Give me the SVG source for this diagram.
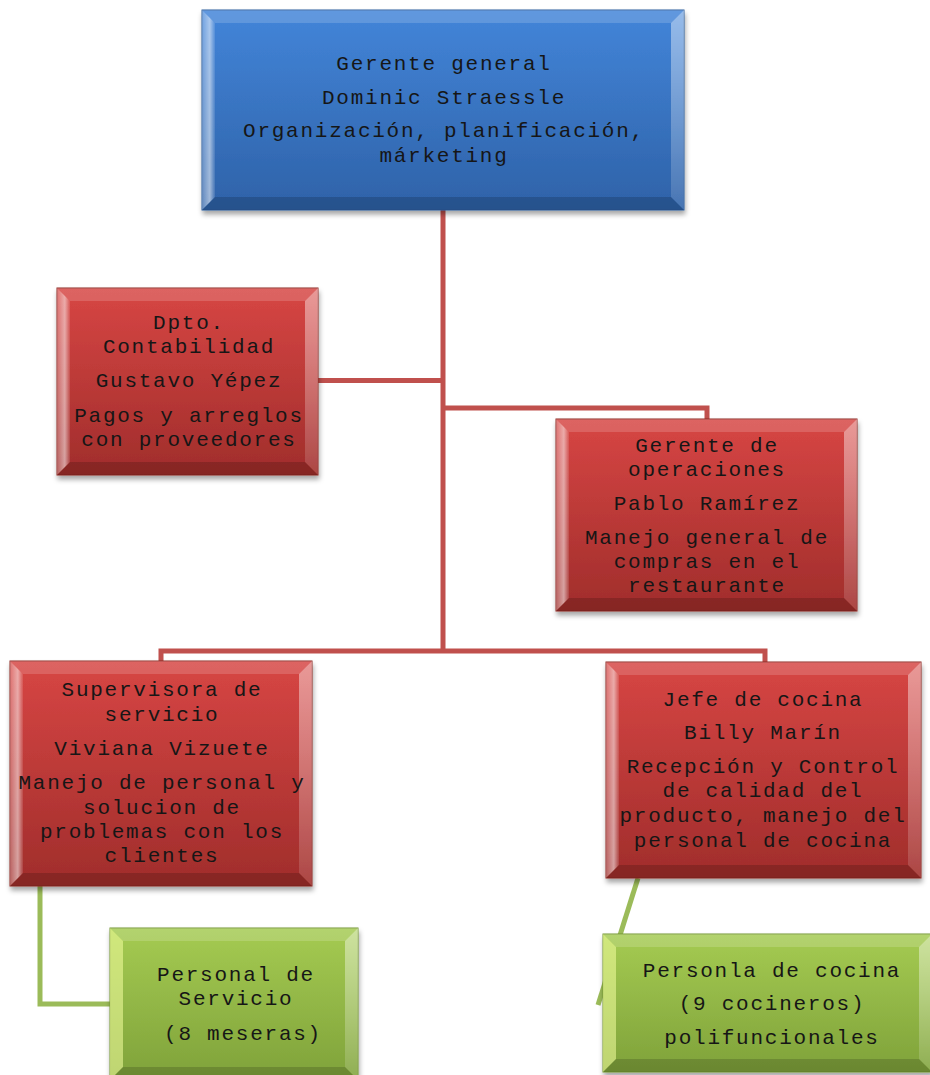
<svg xmlns="http://www.w3.org/2000/svg" width="930" height="1075" viewBox="0 0 930 1075">
<defs>
<linearGradient id="gBlue" x1="0" y1="0" x2="0" y2="1"><stop offset="0" stop-color="#4385d9"/><stop offset="1" stop-color="#2e62a8"/></linearGradient>
<linearGradient id="gRed" x1="0" y1="0" x2="0" y2="1"><stop offset="0" stop-color="#d74644"/><stop offset="1" stop-color="#a02d2b"/></linearGradient>
<linearGradient id="gGreen" x1="0" y1="0" x2="0" y2="1"><stop offset="0" stop-color="#a5cb52"/><stop offset="1" stop-color="#7fa23a"/></linearGradient>
<linearGradient id="gLeft" x1="0" y1="0" x2="1" y2="0"><stop offset="0" stop-color="#fff" stop-opacity="0.25"/><stop offset="0.6" stop-color="#fff" stop-opacity="0.55"/><stop offset="1" stop-color="#fff" stop-opacity="0.1"/></linearGradient>
<linearGradient id="gRight" x1="0" y1="0" x2="0" y2="1"><stop offset="0" stop-color="#fff" stop-opacity="0.45"/><stop offset="1" stop-color="#fff" stop-opacity="0.12"/></linearGradient>
<filter id="sh" x="-10%" y="-10%" width="120%" height="130%"><feDropShadow dx="1" dy="4" stdDeviation="2.5" flood-color="#000" flood-opacity="0.35"/></filter>
</defs>
<style>
.box{stroke-width:1}
.blue .box{fill:url(#gBlue);stroke:#2d5d9c}
.red .box{fill:url(#gRed);stroke:#8e2826}
.green .box{fill:url(#gGreen);stroke:#759633}
.bt{fill:#fff;fill-opacity:0.16}
.bl{fill:url(#gLeft)}
.br{fill:url(#gRight)}
.bb{fill:#000;fill-opacity:0.16}
.green .bl{fill:#f4ffa0;fill-opacity:0.55}
text{font-family:"Liberation Mono","Courier New",monospace;font-size:21px;letter-spacing:1.75px;text-anchor:middle;fill:#161616}
.red-c{fill:none;stroke:#c0504d;stroke-width:5}
.green-c{fill:none;stroke:#9bbb59;stroke-width:5}
</style>
<g id="connectors">
<path class="red-c" d="M443,210 V651" stroke-width="6"/>
<path class="red-c" d="M443,380.5 H318"/>
<path class="red-c" d="M443,408 H707 V419"/>
<path class="red-c" d="M161,662 V651 H765 V662"/>
<path class="green-c" d="M40,886 V1004 H110"/>
<path class="green-c" d="M638,878 L598,1005"/>
</g>
<g id="n-gerente-general" class="node blue">
<rect class="box" x="202" y="10" width="482" height="200" filter="url(#sh)"/>
<polygon class="bt" points="202,10 684,10 671,23 215,23"/>
<polygon class="bl" points="202,10 215,23 215,197 202,210"/>
<polygon class="br" points="684,10 684,210 671,197 671,23"/>
<polygon class="bb" points="202,210 215,197 671,197 684,210"/>
<text x="444" y="70">Gerente general</text>
<text x="444" y="104">Dominic Straessle</text>
<text x="444" y="137">Organización, planificación,</text>
<text x="444" y="162">márketing</text>
</g>
<g id="n-contabilidad" class="node red">
<rect class="box" x="57" y="288" width="261" height="187" filter="url(#sh)"/>
<polygon class="bt" points="57,288 318,288 305,301 70,301"/>
<polygon class="bl" points="57,288 70,301 70,462 57,475"/>
<polygon class="br" points="318,288 318,475 305,462 305,301"/>
<polygon class="bb" points="57,475 70,462 305,462 318,475"/>
<text x="189" y="329">Dpto.</text>
<text x="189" y="353">Contabilidad</text>
<text x="189" y="387">Gustavo Yépez</text>
<text x="189" y="422">Pagos y arreglos</text>
<text x="189" y="446">con proveedores</text>
</g>
<g id="n-operaciones" class="node red">
<rect class="box" x="556" y="419" width="301" height="192" filter="url(#sh)"/>
<polygon class="bt" points="556,419 857,419 844,432 569,432"/>
<polygon class="bl" points="556,419 569,432 569,598 556,611"/>
<polygon class="br" points="857,419 857,611 844,598 844,432"/>
<polygon class="bb" points="556,611 569,598 844,598 857,611"/>
<text x="707" y="452">Gerente de</text>
<text x="707" y="476">operaciones</text>
<text x="707" y="510">Pablo Ramírez</text>
<text x="707" y="544">Manejo general de</text>
<text x="707" y="568">compras en el</text>
<text x="707" y="592">restaurante</text>
</g>
<g id="n-supervisora" class="node red">
<rect class="box" x="10" y="661" width="302" height="225" filter="url(#sh)"/>
<polygon class="bt" points="10,661 312,661 299,674 23,674"/>
<polygon class="bl" points="10,661 23,674 23,873 10,886"/>
<polygon class="br" points="312,661 312,886 299,873 299,674"/>
<polygon class="bb" points="10,886 23,873 299,873 312,886"/>
<text x="162" y="696">Supervisora de</text>
<text x="162" y="721">servicio</text>
<text x="162" y="755">Viviana Vizuete</text>
<text x="162" y="789">Manejo de personal y</text>
<text x="162" y="814">solucion de</text>
<text x="162" y="838">problemas con los</text>
<text x="162" y="862">clientes</text>
</g>
<g id="n-jefe-cocina" class="node red">
<rect class="box" x="606" y="662" width="315" height="216" filter="url(#sh)"/>
<polygon class="bt" points="606,662 921,662 908,675 619,675"/>
<polygon class="bl" points="606,662 619,675 619,865 606,878"/>
<polygon class="br" points="921,662 921,878 908,865 908,675"/>
<polygon class="bb" points="606,878 619,865 908,865 921,878"/>
<text x="763" y="706">Jefe de cocina</text>
<text x="763" y="739">Billy Marín</text>
<text x="763" y="773">Recepción y Control</text>
<text x="763" y="797">de calidad del</text>
<text x="763" y="822">producto, manejo del</text>
<text x="763" y="847">personal de cocina</text>
</g>
<g id="n-personal-servicio" class="node green">
<rect class="box" x="110" y="928" width="248" height="152" filter="url(#sh)"/>
<polygon class="bt" points="110,928 358,928 345,941 123,941"/>
<polygon class="bl" points="110,928 123,941 123,1067 110,1080"/>
<polygon class="br" points="358,928 358,1080 345,1067 345,941"/>
<polygon class="bb" points="110,1080 123,1067 345,1067 358,1080"/>
<text x="236" y="981">Personal de</text>
<text x="236" y="1005">Servicio</text>
<text x="243" y="1040">(8 meseras)</text>
</g>
<g id="n-personal-cocina" class="node green">
<rect class="box" x="603" y="934" width="329" height="138" filter="url(#sh)"/>
<polygon class="bt" points="603,934 932,934 919,947 616,947"/>
<polygon class="bl" points="603,934 616,947 616,1059 603,1072"/>
<polygon class="br" points="932,934 932,1072 919,1059 919,947"/>
<polygon class="bb" points="603,1072 616,1059 919,1059 932,1072"/>
<text x="772" y="977">Personla de cocina</text>
<text x="772" y="1010">(9 cocineros)</text>
<text x="772" y="1044">polifuncionales</text>
</g>
</svg>
